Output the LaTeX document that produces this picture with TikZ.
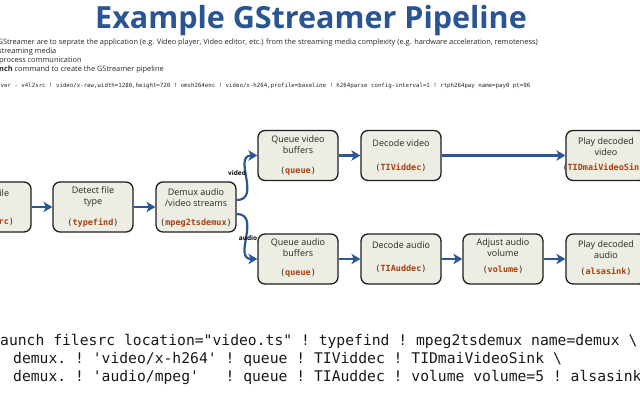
\documentclass[tikz,border=0pt]{standalone}
\usepackage{fontspec}
\setmainfont{Open Sans}
\newfontfamily\monof{DejaVu Sans Mono}
\usetikzlibrary{arrows.meta}
\definecolor{titleblue}{HTML}{2A5592}
\definecolor{arrblue}{HTML}{2B5797}
\definecolor{codered}{HTML}{A8400E}
\definecolor{boxfill}{HTML}{EDEDE3}
\definecolor{boxline}{HTML}{1E1E1E}
\newcommand{\cn}[1]{{\bfseries\color{codered}#1}}
\begin{document}
\begin{tikzpicture}[x=1pt,y=-1pt,
  boxnode/.style={draw=boxline, fill=boxfill, line width=1.3pt, rounded corners=7pt,
    minimum width=80pt, minimum height=50pt, inner sep=0pt},
  lbl/.style={font=\fontsize{9}{11}\selectfont, align=center, text=black!85, inner sep=0pt},
  cd/.style={font=\monof\frenchspacing\fontsize{8.5}{10}\selectfont, text=black!85, inner sep=0pt},
  arr/.style={draw=arrblue, line width=2.2pt, -{Stealth[length=9pt,width=10.5pt,inset=2.5pt]}},
  branch/.style={font=\bfseries\fontsize{6.5}{7}\selectfont, inner sep=0pt},
  topline/.style={font=\fontsize{7.4}{8}\selectfont, inner sep=0pt, text=black!85},
  bigcode/.style={font=\monof\frenchspacing\fontsize{14.7}{17}\selectfont, inner sep=0pt, anchor=base west, text=black!90}]
\useasboundingbox (0,0) rectangle (640,400);
\clip (0,0) rectangle (640,400);

% title
\node[font=\bfseries\fontsize{30.5}{34}\selectfont, text=titleblue, inner sep=0pt, anchor=base] (title) at (311,28) {Example GStreamer Pipeline};

% intro text
\node[topline, anchor=east] (t1) at (538,43) {GStreamer are to seprate the application (e.g. Video player, Video editor, etc.) from the streaming media complexity (e.g. hardware acceleration, remoteness)};
\node[topline, anchor=west] (t2) at (-2,52) {streaming media};
\node[topline, anchor=west] (t3) at (-1,61) {process communication};
\node[topline, anchor=west] (t4) at (-1,70) {\textbf{nch} command to create the GStreamer pipeline};
\node[font=\monof\frenchspacing\fontsize{5.75}{7}\selectfont, inner sep=0pt, anchor=west, text=black!85] (t5) at (0.5,86) {ver - v4l2src ! video/x-raw,width=1280,height=720 ! omxh264enc ! video/x-h264,profile=baseline ! h264parse config-interval=1 ! rtph264pay name=pay0 pt=96};

% boxes
\node[boxnode] (A) at (-9,207) {};
\node[boxnode] (B) at (93,207) {};
\node[boxnode] (C) at (196,207) {};
\node[boxnode] (D) at (298,155.5) {};
\node[boxnode] (E) at (298,259) {};
\node[boxnode] (F) at (401,155.5) {};
\node[boxnode] (G) at (606,155.5) {};
\node[boxnode] (H) at (401,259) {};
\node[boxnode] (I) at (503,259) {};
\node[boxnode] (J) at (606,259) {};

% box texts
\node[lbl] (At) at (-9,193) {Read file};
\node[cd]  (Ac) at (-9,222) {(\cn{filesrc})};
\node[lbl] (Bt) at (93,196.5) {Detect file\\type};
\node[cd]  (Bc) at (93,223) {(\cn{typefind})};
\node[lbl] (Ct) at (196,197.5) {Demux audio\\/video streams};
\node[cd]  (Cc) at (196,223) {(\cn{mpeg2tsdemux})};
\node[lbl] (Dt) at (298,144.5) {Queue video\\buffers};
\node[cd]  (Dc) at (298,171) {(\cn{queue})};
\node[lbl] (Et) at (298,248) {Queue audio\\buffers};
\node[cd]  (Ec) at (298,273) {(\cn{queue})};
\node[lbl] (Ft) at (401,143) {Decode video};
\node[cd]  (Fc) at (401,168) {(\cn{TIViddec})};
\node[lbl] (Gt) at (606,146.5) {Play decoded\\video};
\node[cd]  (Gc) at (606,168) {(\cn{TIDmaiVideoSink})};
\node[lbl] (Ht) at (401,245) {Decode audio};
\node[cd]  (Hc) at (401,269) {(\cn{TIAuddec})};
\node[lbl] (It) at (503,247.5) {Adjust audio\\volume};
\node[cd]  (Ic) at (503,270) {(\cn{volume})};
\node[lbl] (Jt) at (606,249.5) {Play decoded\\audio};
\node[cd]  (Jc) at (606,272) {(\cn{alsasink})};

% connectors
\draw[arr] (A) -- (B);
\draw[arr] (B) -- (C);
\draw[arr] ([yshift=7pt]C.east) .. controls +(25pt,0pt) and +(-25pt,0pt) .. (D.west);
\draw[arr] ([yshift=-7pt]C.east) .. controls +(25pt,0pt) and +(-25pt,0pt) .. (E.west);
\draw[arr] (D) -- (F);
\draw[arr] (F) -- (G);
\draw[arr] (E) -- (H);
\draw[arr] (H) -- (I);
\draw[arr] (I) -- (J);
\node[branch] (vl) at (237,173) {video};
\node[branch] (al) at (248,238) {audio};

% bottom command
\node[bigcode] (c1) at (0,345) {aunch filesrc location="video.ts" ! typefind ! mpeg2tsdemux name=demux \textbackslash};
\node[bigcode] (c2) at (13,363) {demux. ! \textquotesingle video/x-h264\textquotesingle\ ! queue ! TIViddec ! TIDmaiVideoSink \textbackslash};
\node[bigcode] (c3) at (13,381) {demux. ! \textquotesingle audio/mpeg\textquotesingle\ \ \ ! queue ! TIAuddec ! volume volume=5 ! alsasink};
\end{tikzpicture}
\end{document}
